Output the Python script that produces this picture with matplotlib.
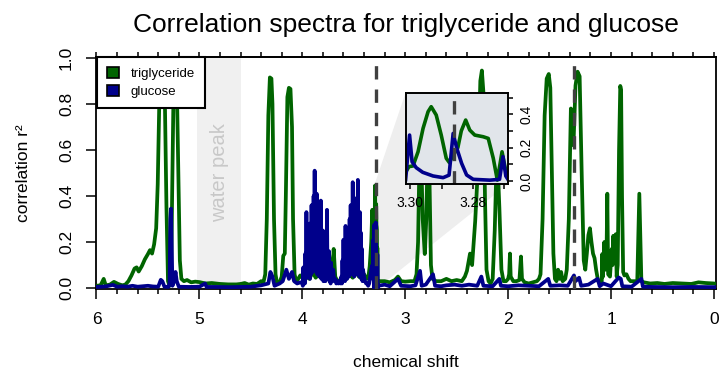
import numpy as np
import matplotlib
matplotlib.use('Agg')
import matplotlib.pyplot as plt
from matplotlib.patches import Patch, Polygon

plt.rcParams['font.family'] = ['Liberation Sans', 'DejaVu Sans']

# triglyceride correlation spectrum (ppm, r^2)
tri_ppm = [6.00, 5.96, 5.93, 5.91, 5.87, 5.83, 5.79, 5.75, 5.72, 5.69, 5.66, 5.63, 5.61, 5.59, 5.56,
           5.53, 5.50, 5.48, 5.46, 5.44, 5.42, 5.405, 5.39, 5.37, 5.35, 5.335, 5.32, 5.305, 5.29,
           5.275, 5.265, 5.25, 5.235, 5.22, 5.205, 5.19, 5.175, 5.15, 5.12, 5.08, 5.04,
           5.00, 4.94, 4.88, 4.80, 4.72, 4.64, 4.60, 4.56, 4.52, 4.48, 4.44, 4.40, 4.38, 4.36,
           4.345, 4.33, 4.315, 4.30, 4.29, 4.275, 4.26, 4.245, 4.22, 4.20, 4.185, 4.17, 4.16,
           4.145, 4.13, 4.115, 4.10, 4.09, 4.075, 4.06, 4.04, 4.02,
           4.00, 3.98, 3.96, 3.93, 3.90, 3.87, 3.84, 3.81, 3.78, 3.76, 3.74, 3.725, 3.71, 3.695,
           3.68, 3.66, 3.63, 3.60, 3.57, 3.54, 3.51, 3.48, 3.45, 3.42, 3.40, 3.38, 3.36, 3.345,
           3.33, 3.32, 3.31, 3.305,
           3.3015, 3.3004, 3.2991, 3.2975, 3.2959, 3.2943, 3.2933, 3.2917, 3.2901, 3.2885,
           3.2875, 3.2864, 3.2848, 3.2837, 3.2823, 3.2810, 3.2794, 3.2767, 3.2751, 3.2735,
           3.2722, 3.2707, 3.2695, 3.2685, 3.265,
           3.25, 3.20, 3.15, 3.10, 3.07, 3.04, 3.00, 2.95, 2.91, 2.89, 2.875, 2.86, 2.845, 2.83,
           2.81, 2.795, 2.78, 2.765, 2.75, 2.735, 2.70, 2.65, 2.60, 2.55, 2.50, 2.45, 2.42, 2.40,
           2.37, 2.35, 2.32, 2.29, 2.27, 2.255, 2.24, 2.225, 2.21, 2.19, 2.17, 2.15, 2.13, 2.115,
           2.10, 2.085, 2.065, 2.045, 2.02, 2.00,
           1.99, 1.982, 1.975, 1.95, 1.92, 1.89, 1.875, 1.865, 1.84, 1.80, 1.76, 1.72, 1.70,
           1.685, 1.665, 1.645, 1.625, 1.605, 1.59, 1.575, 1.56, 1.545, 1.53, 1.515, 1.50, 1.485,
           1.47, 1.445, 1.43, 1.41, 1.39, 1.378, 1.365, 1.345, 1.325, 1.305, 1.285, 1.265, 1.25,
           1.235, 1.22, 1.205, 1.19, 1.175, 1.16, 1.145, 1.125, 1.105,
           1.09, 1.085, 1.078, 1.065, 1.055, 1.045, 1.036, 1.028, 1.01, 0.993, 0.985, 0.978,
           0.968, 0.954, 0.945, 0.935, 0.922, 0.91, 0.902, 0.893, 0.882, 0.87, 0.85, 0.83, 0.81,
           0.78, 0.745, 0.733, 0.725, 0.717, 0.705, 0.68, 0.62, 0.55, 0.48, 0.40, 0.30, 0.22,
           0.15, 0.08, 0.00, -0.02]
tri_r2 = [0.010, 0.012, 0.040, 0.012, 0.015, 0.027, 0.018, 0.012, 0.015, 0.030, 0.055, 0.085, 0.090, 0.072, 0.095,
          0.125, 0.148, 0.165, 0.150, 0.190, 0.260, 0.450, 0.800, 0.960, 0.950, 0.800, 0.350, 0.030, 0.010,
          0.030, 0.400, 0.900, 0.970, 0.900, 0.500, 0.120, 0.040, 0.030, 0.035, 0.025, 0.028,
          0.026, 0.020, 0.022, 0.018, 0.016, 0.016, 0.018, 0.022, 0.015, 0.020, 0.018, 0.030, 0.020, 0.060,
          0.300, 0.750, 0.915, 0.910, 0.800, 0.300, 0.060, 0.020, 0.025, 0.050, 0.140, 0.150, 0.400,
          0.830, 0.870, 0.865, 0.700, 0.300, 0.060, 0.030, 0.040, 0.055,
          0.045, 0.035, 0.050, 0.040, 0.070, 0.045, 0.060, 0.050, 0.080, 0.060, 0.150, 0.080, 0.040, 0.170,
          0.050, 0.030, 0.035, 0.050, 0.040, 0.060, 0.045, 0.070, 0.050, 0.040, 0.060, 0.045, 0.040, 0.095,
          0.200, 0.340, 0.250, 0.120,
          0.050, 0.086, 0.090, 0.175, 0.315, 0.415, 0.445, 0.395, 0.275, 0.136,
          0.110, 0.150, 0.200, 0.300, 0.365, 0.305, 0.275, 0.265, 0.255, 0.136,
          0.005, 0.175, 0.060, 0.010, 0.030,
          0.030, 0.030, 0.025, 0.035, 0.050, 0.030, 0.028, 0.030, 0.030, 0.060, 0.200, 0.600, 0.580, 0.300,
          0.148, 0.300, 0.640, 0.500, 0.100, 0.040, 0.030, 0.030, 0.040, 0.030, 0.035, 0.030, 0.050, 0.075,
          0.150, 0.100, 0.290, 0.550, 0.900, 0.945, 0.850, 0.400, 0.080, 0.030, 0.020, 0.040, 0.250, 0.500,
          0.520, 0.350, 0.080, 0.030, 0.030, 0.040,
          0.060, 0.150, 0.050, 0.030, 0.030, 0.035, 0.137, 0.040, 0.025, 0.020, 0.025, 0.030, 0.040,
          0.060, 0.300, 0.750, 0.910, 0.930, 0.870, 0.500, 0.150, 0.040, 0.030, 0.080, 0.040, 0.070,
          0.030, 0.040, 0.080, 0.300, 0.780, 0.650, 0.620, 0.880, 0.940, 0.920, 0.500, 0.120, 0.080,
          0.150, 0.230, 0.260, 0.200, 0.150, 0.130, 0.080, 0.030, 0.030,
          0.030, 0.148, 0.050, 0.200, 0.080, 0.100, 0.410, 0.060, 0.050, 0.170, 0.100, 0.227,
          0.120, 0.234, 0.050, 0.100, 0.600, 0.878, 0.860, 0.400, 0.070, 0.055, 0.060, 0.040, 0.030,
          0.030, 0.030, 0.250, 0.410, 0.250, 0.030, 0.025, 0.020, 0.022, 0.018, 0.022, 0.020, 0.018,
          0.025, 0.022, 0.020, 0.018]

# glucose correlation spectrum (ppm, r^2)
glu_ppm = [6.00, 5.95, 5.90, 5.84, 5.80, 5.75, 5.70, 5.65, 5.60, 5.55, 5.50, 5.45, 5.40, 5.375,
           5.36, 5.34, 5.30, 5.29, 5.282, 5.276, 5.27, 5.262, 5.245, 5.232, 5.22, 5.20, 5.10,
           5.00, 4.945, 4.93, 4.85, 4.70, 4.60, 4.50, 4.40, 4.33, 4.31, 4.29, 4.27, 4.22, 4.19,
           4.155, 4.13, 4.10, 4.08, 4.05, 4.02,
           4.000, 3.995, 3.990, 3.985, 3.980, 3.975, 3.970, 3.965, 3.960, 3.955, 3.950, 3.945,
           3.940, 3.935, 3.930, 3.925, 3.920, 3.915, 3.910, 3.905, 3.900, 3.895, 3.890, 3.885,
           3.880, 3.875, 3.870, 3.865, 3.860, 3.855, 3.850, 3.845, 3.840, 3.835, 3.830, 3.825,
           3.820, 3.815, 3.810, 3.805, 3.800, 3.795, 3.790, 3.785, 3.780, 3.775, 3.770, 3.765,
           3.760, 3.755, 3.750, 3.745, 3.740, 3.735, 3.730, 3.725, 3.720, 3.715, 3.710, 3.700,
           3.690, 3.680, 3.670, 3.660, 3.650, 3.640, 3.630, 3.620, 3.615, 3.610, 3.605, 3.600,
           3.595, 3.590, 3.585, 3.580, 3.575, 3.570, 3.565, 3.560, 3.555, 3.550, 3.545, 3.540,
           3.535, 3.530, 3.525, 3.520, 3.515, 3.510, 3.505, 3.500, 3.495, 3.490, 3.485, 3.480,
           3.475, 3.470, 3.465, 3.460, 3.455, 3.450, 3.445, 3.440, 3.435, 3.430, 3.425, 3.420,
           3.415, 3.410, 3.400, 3.390, 3.380, 3.370, 3.360, 3.350, 3.340, 3.330, 3.320, 3.315,
           3.310, 3.305,
           3.3015, 3.3002, 3.2994, 3.2981, 3.2960, 3.2927, 3.2895, 3.2876, 3.2863, 3.2852,
           3.2836, 3.2820, 3.2799, 3.2746, 3.2715, 3.2704, 3.2695, 3.2685,
           3.26, 3.20, 3.15, 3.07, 3.04, 2.95, 2.90, 2.856, 2.84, 2.80, 2.73, 2.71, 2.65, 2.60,
           2.52, 2.45, 2.38, 2.30, 2.26, 2.24, 2.15, 2.085, 2.07, 2.00, 1.90, 1.80, 1.70, 1.61,
           1.59, 1.50, 1.42, 1.36, 1.345, 1.31, 1.29, 1.22, 1.13, 1.11, 1.075, 1.00, 0.925,
           0.905, 0.89, 0.80, 0.705, 0.69, 0.60, 0.40, 0.20, 0.00, -0.02]
glu_r2 = [0.005, 0.006, 0.008, 0.014, 0.006, 0.008, 0.006, 0.010, 0.006, 0.008, 0.010, 0.007, 0.006, 0.036,
          0.030, 0.006, 0.005, 0.020, 0.300, 0.345, 0.200, 0.010, 0.030, 0.070, 0.030, 0.006, 0.005,
          0.006, 0.020, 0.005, 0.005, 0.004, 0.005, 0.006, 0.012, 0.020, 0.070, 0.050, 0.010, 0.020, 0.030,
          0.080, 0.040, 0.070, 0.030, 0.020, 0.025,
          0.02, 0.01, 0.09, 0.02, 0.04, 0.02, 0.15, 0.04, 0.33, 0.06, 0.12, 0.05,
          0.22, 0.08, 0.28, 0.04, 0.10, 0.06, 0.36, 0.10, 0.25, 0.07, 0.40, 0.12,
          0.51, 0.09, 0.30, 0.10, 0.41, 0.06, 0.18, 0.08, 0.31, 0.05, 0.20, 0.07,
          0.38, 0.04, 0.15, 0.06, 0.25, 0.03, 0.12, 0.05, 0.20, 0.03, 0.09, 0.06,
          0.34, 0.04, 0.14, 0.05, 0.16, 0.03, 0.07, 0.02, 0.11, 0.03, 0.05, 0.08,
          0.03, 0.04, 0.02, 0.03, 0.02, 0.03, 0.02, 0.05, 0.02, 0.12, 0.04, 0.21,
          0.05, 0.09, 0.03, 0.27, 0.06, 0.14, 0.04, 0.25, 0.07, 0.18, 0.05, 0.30,
          0.09, 0.36, 0.06, 0.16, 0.08, 0.46, 0.10, 0.28, 0.05, 0.39, 0.08, 0.22,
          0.06, 0.34, 0.11, 0.47, 0.07, 0.20, 0.05, 0.33, 0.08, 0.24, 0.04, 0.17,
          0.03, 0.08, 0.05, 0.03, 0.02, 0.02, 0.01, 0.02, 0.05, 0.08, 0.10, 0.04,
          0.21, 0.05,
          0.000, 0.275, 0.115, 0.080, 0.052, 0.030, 0.020, 0.035, 0.285, 0.200,
          0.106, 0.036, 0.010, 0.005, 0.010, 0.146, 0.030, 0.000,
          0.010, 0.015, 0.008, 0.040, 0.010, 0.008, 0.012, 0.075, 0.010, 0.015, 0.060, 0.010, 0.008, 0.012,
          0.015, 0.010, 0.015, 0.010, 0.050, 0.010, 0.008, 0.040, 0.010, 0.008, 0.012, 0.010, 0.008, 0.040,
          0.010, 0.012, 0.010, 0.055, 0.030, 0.045, 0.010, 0.015, 0.040, 0.008, 0.020, 0.008, 0.046,
          0.040, 0.008, 0.006, 0.040, 0.006, 0.005, 0.004, 0.005, 0.004, 0.004]

dash_ppm = [3.286, 1.364]
water = (5.02, 4.60)
inset_x = (3.3015, 3.2688)
inset_y = (-0.018, 0.527)

green = 'darkgreen'
blue = 'darkblue'
dash_col = '#404040'

fig = plt.figure(figsize=(7.19, 3.71), dpi=100)
ax = fig.add_axes([0.1342, 0.221, 0.8616, 0.6267])

# water peak band
ax.axvspan(water[0], water[1], color='#f0f0f0', lw=0, zorder=0)
ax.text(4.805, 0.5, 'water peak', rotation=90, color='#c8c8c8', fontsize=14.5,
        ha='center', va='center', zorder=1)

ax.plot(tri_ppm, tri_r2, color=green, lw=2.7, zorder=3)
ax.plot(glu_ppm, glu_r2, color=blue, lw=2.7, zorder=4)
for x in dash_ppm:
    ax.axvline(x, color=dash_col, lw=2.4, dashes=(4.0, 3.0), zorder=5)

ax.set_xlim(6, -0.02)
ax.set_ylim(-0.004, 1.006)

ax.set_xticks(range(0, 7))
ax.set_xticklabels([str(i) for i in range(0, 7)])
ax.set_xticks(np.arange(0, 6.01, 0.2), minor=True)
ax.set_yticks([0, 0.2, 0.4, 0.6, 0.8, 1.0])
ax.set_yticklabels(['0.0', '0.2', '0.4', '0.6', '0.8', '1.0'], rotation=90, va='center')
ax.tick_params(which='major', length=7.2, width=1.1, labelsize=12.5, pad=9, direction='out')
ax.tick_params(which='minor', length=3.6, width=1.1, direction='out')
ax.tick_params(axis='y', pad=9)
for s in ax.spines.values():
    s.set_linewidth(1.3)

top = ax.secondary_xaxis('top')
top.set_xticks(np.arange(0, 6.01, 0.2))
top.set_xticklabels([])
top.tick_params(length=3.6, width=1.1, direction='out')
top.spines['top'].set_linewidth(1.3)

# legend
handles = [Patch(facecolor=green, edgecolor='black', lw=1.2, label='triglyceride'),
           Patch(facecolor=blue, edgecolor='black', lw=1.2, label='glucose')]
leg = ax.legend(handles=handles, loc='upper left', bbox_to_anchor=(0.001, 0.998),
                borderaxespad=0, fontsize=9.5, frameon=True, fancybox=False,
                edgecolor='black', framealpha=1, handlelength=0.9, handleheight=0.9,
                handletextpad=0.9, borderpad=0.75, labelspacing=0.4)
leg.get_frame().set_linewidth(1.5)
leg.set_zorder(10)

fig.suptitle('Correlation spectra for triglyceride and glucose', x=0.5647, y=0.933,
             va='center', fontsize=19)
fig.text(0.5647, 0.024, 'chemical shift', ha='center', va='center', fontsize=12.5)
fig.text(0.033, 0.534, 'correlation r²', ha='center', va='center', rotation=90, fontsize=12.5)

# zoom inset
axin = fig.add_axes([405.5 / 719, 1 - 184 / 371, 102.5 / 719, 91 / 371])
axin.set_facecolor('#e1e5ea')
axin.plot(tri_ppm, tri_r2, color=green, lw=2.6)
axin.plot(glu_ppm, glu_r2, color=blue, lw=2.6)
axin.axvline(dash_ppm[0], color=dash_col, lw=2.4, dashes=(4.0, 3.0))
axin.set_xlim(*inset_x)
axin.set_ylim(*inset_y)
axin.yaxis.tick_right()
axin.set_yticks([0, 0.1, 0.2, 0.3, 0.4, 0.5])
axin.set_yticklabels(['0.0', '', '0.2', '', '0.4', ''], rotation=90, va='center')
axin.set_xticks([3.30, 3.29, 3.28, 3.27])
axin.set_xticklabels(['3.30', '', '3.28', ''])
axin.tick_params(length=3.6, width=1.1, labelsize=10, pad=5, direction='out')
for s in axin.spines.values():
    s.set_linewidth(1.4)

# grey wedge connecting the zoomed window to the inset
inv = ax.transData.inverted()
tl = inv.transform(axin.transAxes.transform((0, 1)))
br = inv.transform(axin.transAxes.transform((1, 0)))
wedge = Polygon([(inset_x[0], 0.445), tl, br, (inset_x[1], 0.0)], closed=True,
                facecolor='#eeeeee', edgecolor='none', zorder=1)
ax.add_patch(wedge)

plt.savefig('out.png', dpi=100)
